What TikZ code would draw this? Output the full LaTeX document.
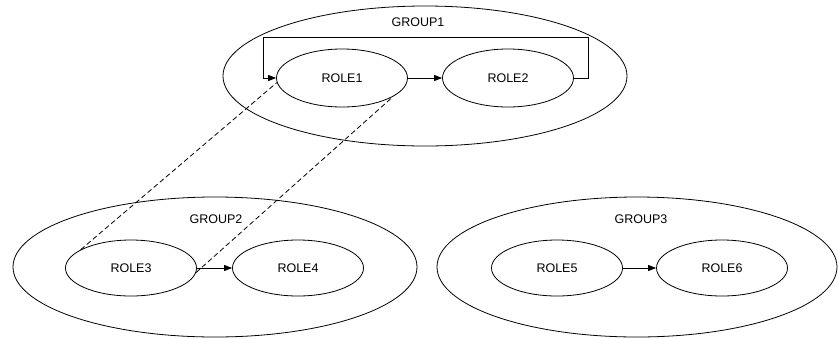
\documentclass[tikz,border=0pt]{standalone}
\usepackage{fontspec}
\setmainfont{Liberation Sans}
\usetikzlibrary{shapes.geometric,arrows.meta}
\begin{document}
\begin{tikzpicture}[x=1pt,y=-1pt,
  groupell/.style={ellipse,draw,line width=0.8pt,minimum width=404pt,minimum height=140pt,inner sep=0pt},
  roleell/.style={ellipse,draw,line width=0.8pt,minimum width=131pt,minimum height=58pt,inner sep=0pt,font=\fontsize{12.5}{14}\selectfont},
  grouplabel/.style={font=\fontsize{12.5}{14}\selectfont,inner sep=0pt},
  flow/.style={line width=0.8pt,-{Triangle[length=8pt,width=6pt]}},
  assoc/.style={line width=0.8pt,dash pattern=on 5pt off 3pt}]
\useasboundingbox (0,0) rectangle (838,338);
\node[groupell] (g1) at (425,76) {};
\node[groupell] (g2) at (215,267) {};
\node[groupell,minimum width=400pt] (g3) at (637,267) {};
\node[grouplabel] (g1l) at (418,22) {GROUP1};
\node[grouplabel] (g2l) at (216,219) {GROUP2};
\node[grouplabel] (g3l) at (641,219) {GROUP3};
\node[roleell] (r1) at (342,78) {ROLE1};
\node[roleell] (r2) at (508,78) {ROLE2};
\node[roleell,minimum height=56pt] (r3) at (131,268) {ROLE3};
\node[roleell,minimum height=56pt] (r4) at (298,268) {ROLE4};
\node[roleell,minimum height=56pt] (r5) at (557,268) {ROLE5};
\node[roleell,minimum height=56pt] (r6) at (722,268) {ROLE6};
\draw[flow] (r1.east) -- (r2.west);
\draw[flow] (r3.east) -- (r4.west);
\draw[flow] (r5.east) -- (r6.west);
\draw[flow] (r2.east) -- ++(14,0) |- (263,37) |- (r1.west);
\draw[assoc] (r3.160) -- (r1.184);
\draw[assoc] (r3.356) -- (r1.340);
\end{tikzpicture}
\end{document}
